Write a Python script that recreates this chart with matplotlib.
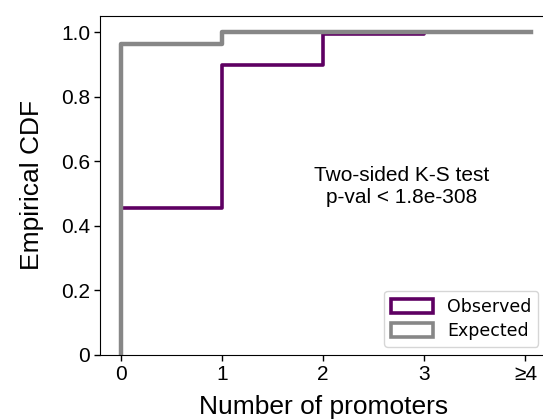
import matplotlib
matplotlib.use('Agg')
import matplotlib.pyplot as plt
from matplotlib.patches import Patch

# cdf values at 0, 1, 2, 3, >=4 promoters
promoters = [0, 1, 2, 3, 4]
tick_labels = ['0', '1', '2', '3', '≥4']
observed = [0.454, 0.898, 0.993, 1.0, 1.0]
expected = [0.963, 1.0, 1.0, 1.0, 1.0]

purple = '#5e0062'
grey = '#878787'

plt.rcParams['font.family'] = ['Liberation Sans', 'DejaVu Sans']

fig = plt.figure(figsize=(5.43, 4.2), dpi=100)
ax = fig.add_axes([0.185, 0.155, 0.82, 0.807])

# step lines start from 0 at x=0
xs = [promoters[0]] + promoters
ax.step(xs + [4.05], [0] + observed + [observed[-1]], where='post', color=purple, lw=2.6)
ax.step(xs + [4.05], [0] + expected + [expected[-1]], where='post', color=grey, lw=3.2)

ax.set_xlim(-0.2, 4.2)
ax.set_ylim(0, 1.05)
ax.set_xticks(promoters)
ax.set_xticklabels(tick_labels)
ax.set_yticks([0, 0.2, 0.4, 0.6, 0.8, 1.0])
ax.set_yticklabels(['0', '0.2', '0.4', '0.6', '0.8', '1.0'])
ax.tick_params(labelsize=15, length=4, width=1)
ax.set_xlabel('Number of promoters', fontsize=19, labelpad=8)
ax.set_ylabel('Empirical CDF', fontsize=19, labelpad=12)

ax.text(2.78, 0.523, 'Two-sided K-S test\np-val < 1.8e-308', fontsize=15,
        ha='center', va='center', linespacing=1.2)

handles = [Patch(facecolor='white', edgecolor=purple, lw=2.6, label='Observed'),
           Patch(facecolor='white', edgecolor=grey, lw=2.6, label='Expected')]
leg = ax.legend(handles=handles, loc='lower right', bbox_to_anchor=(0.983, 0.024),
                prop={'family': 'DejaVu Sans', 'size': 12.5},
                handlelength=2.4, handleheight=0.9, borderaxespad=0.0,
                labelspacing=0.35, handletextpad=0.8)

fig.savefig('out.png', dpi=100)
